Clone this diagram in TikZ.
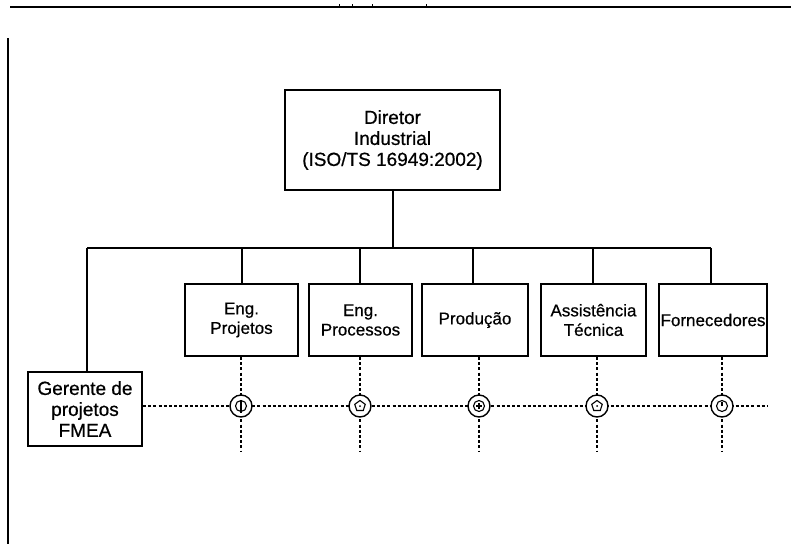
\documentclass[tikz,border=0pt]{standalone}
\usepackage{fontspec}
\setmainfont{Liberation Sans}[FakeBold=0.6]
\begin{document}
\begin{tikzpicture}[x=1pt,y=-1pt,
  unit/.style={draw,line width=1.8pt,align=center,inner sep=0pt,font=\fontsize{17}{19.5}\selectfont},
  link/.style={line width=1.2pt},
  mainlink/.style={line width=2pt},
  dotline/.style={line width=1.1pt,dash pattern=on 3pt off 2.2pt},
  outer/.style={draw,line width=1.4pt,circle,minimum size=22pt,inner sep=0pt,fill=white},
  inner/.style={line width=1.1pt}]
\useasboundingbox (0,0) rectangle (791,544);

% page frame remnants
\draw[line width=1.4pt] (10,7) -- (791,7);
\foreach \t in {339,352,372,426} \draw[line width=0.9pt] (\t,7) -- (\t,4);
\draw[line width=1.4pt] (8,38) -- (8,544);

% director
\node[unit,minimum width=215pt,minimum height=100pt,font=\fontsize{19}{21}\selectfont]
  (dir) at (392.5,140) {Diretor\\Industrial\\(ISO/TS 16949:2002)};

% departments
\node[unit,minimum width=113pt,minimum height=72pt] (p1) at (241.5,320) {Eng.\\Projetos};
\node[unit,minimum width=103pt,minimum height=72pt] (p2) at (360.5,320) {Eng.\\Processos};
\node[unit,minimum width=106pt,minimum height=72pt] (p3) at (475,320) {Produção};
\node[unit,minimum width=105pt,minimum height=72pt] (p4) at (593.5,320) {Assistência\\Técnica};
\node[unit,minimum width=108pt,minimum height=72pt] (p5) at (713,320) {Fornecedores};

% project manager
\node[unit,minimum width=114pt,minimum height=74pt,font=\fontsize{19}{21}\selectfont]
  (ger) at (85,409) {Gerente de\\projetos\\FMEA};

% bus
\coordinate (bl) at (87,248);
\coordinate (br) at (711,248);
\draw[mainlink] (dir.south) -- (dir.south |- bl);
\draw[mainlink] (242,248) -- (br);
\draw[link] (bl) -- (242,248);
\draw[link] (bl) -- (bl |- ger.north);
\draw[mainlink] (242,248) -- (242,0 |- p1.north);
\draw[link] (360,248) -- (360,0 |- p2.north);
\draw[link] (473,248) -- (473,0 |- p3.north);
\draw[link] (593,248) -- (593,0 |- p4.north);
\draw[link] (br) -- (br |- p5.north);

% matrix links
\coordinate (hr) at (767,406);
\draw[dotline] (ger.east |- hr) -- (hr);
\foreach \n/\x in {1/241,2/360,3/479,4/597,5/722}{
  \coordinate (e\n) at (\x,452);
  \draw[dotline] (\x,0 |- p\n.south) -- (e\n);
  \node[outer] (c\n) at (\x,406) {};
}
% marks inside the nodes
\draw[inner] (c1) circle (5.5pt);
\draw[inner] ([yshift=-6.5pt]c1.center) -- ([yshift=6.5pt]c1.center);
\draw[inner] (c2) ++(90:5.5pt) -- ++(-36:6.5pt) -- ++(-108:6.5pt) -- ++(-180:6.5pt) -- ++(108:6.5pt) -- cycle;
\fill (c2) circle (1pt);
\draw[inner] (c3) circle (5.5pt);
\draw[inner] ([yshift=-3pt]c3.center) -- ([yshift=3pt]c3.center)
             ([xshift=-3pt]c3.center) -- ([xshift=3pt]c3.center);
\draw[inner] (c4) ++(90:5.5pt) -- ++(-36:6.5pt) -- ++(-108:6.5pt) -- ++(-180:6.5pt) -- ++(108:6.5pt) -- cycle;
\fill (c4) circle (1pt);
\draw[inner] (c5) circle (5.5pt);
\draw[inner] (c5.center) -- ([yshift=4.5pt]c5.center);
\end{tikzpicture}
\end{document}
